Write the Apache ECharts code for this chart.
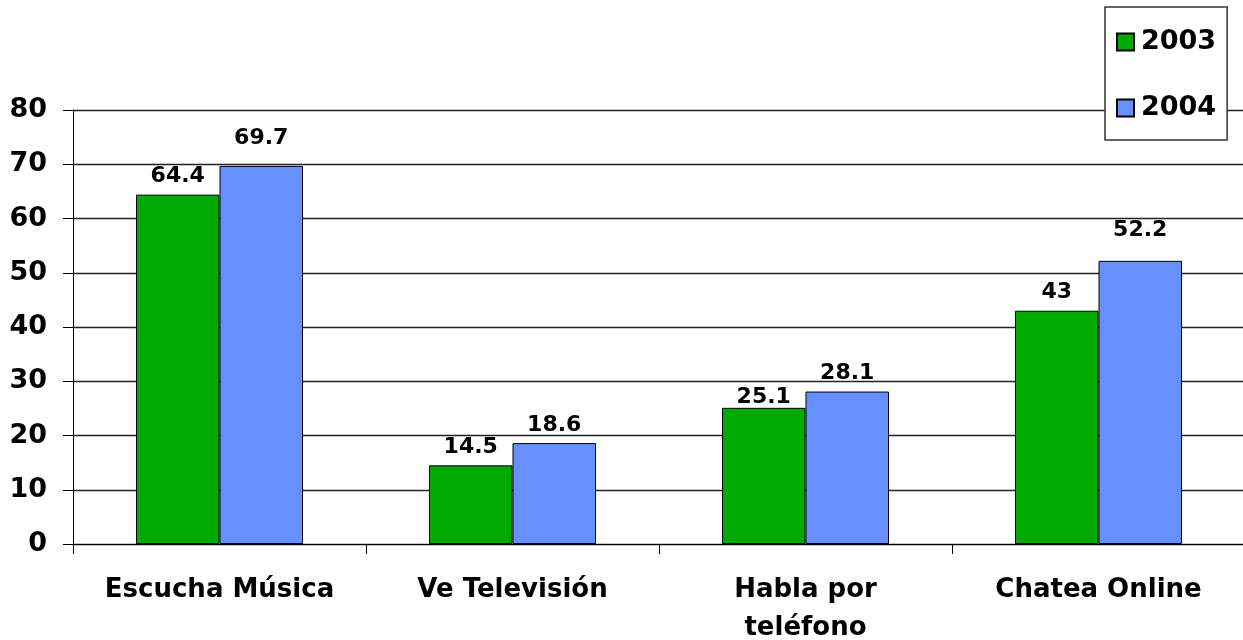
<!DOCTYPE html>
<html>
<head>
<meta charset="utf-8">
<script src="https://cdn.jsdelivr.net/npm/echarts@6/dist/echarts.min.js"></script>
<style>
  html, body { margin: 0; padding: 0; background: #fff; }
  #chart { width: 1243px; height: 640px; }
</style>
</head>
<body>
<div id="chart"></div>
<script>
const categories = ['Escucha Música', 'Ve Televisión', 'Habla por\nteléfono', 'Chatea Online'];
const years = ['2003', '2004'];
const values2003 = [64.4, 14.5, 25.1, 43];
const values2004 = [69.7, 18.6, 28.1, 52.2];
const yTicks = { min: 0, max: 80, interval: 10 };

// extra lift of some value labels (excel put them a bit higher/lower)
const lift2003 = [0, 0, -7, 0];
const lift2004 = [10, 0, 0, 13];

const font = 'DejaVu Sans';
const colors = ['#00aa00', '#6690ff'];

function buildData(values, lifts) {
    return values.map((v, i) => {
        return {
            value: v,
            label: { offset: [0, -lifts[i]] }
        }
    })
}

function barSeries(name, values, lifts, color) {
    return {
        name: name,
        type: 'bar',
        barGap: '0%',
        barCategoryGap: '43%',
        data: buildData(values, lifts),
        itemStyle: {
            color: color,
            borderColor: '#000',
            borderWidth: 1
        },
        label: {
            show: true,
            position: 'top',
            distance: 7,
            fontFamily: font,
            fontWeight: 'bold',
            fontSize: 22,
            color: '#000'
        }
    }
}

const myChart = echarts.init(document.querySelector('#chart'));
const option = {
    animation: false,
    grid: {
        left: 73,
        top: 110,
        width: 1172,
        bottom: 96,
        containLabel: false,
        outerBoundsMode: 'none'
    },
    legend: {
        orient: 'vertical',
        left: 1105,
        top: 7,
        icon: 'rect',
        itemWidth: 17,
        itemHeight: 17,
        itemGap: 36,
        padding: [20, 11, 17, 11],
        backgroundColor: '#fff',
        borderColor: '#333',
        borderWidth: 1.5,
        borderRadius: 0,
        textStyle: {
            fontFamily: font,
            fontWeight: 'bold',
            fontSize: 27,
            lineHeight: 30,
            color: '#000',
            padding: [0, 0, 0, 2]
        },
        data: years
    },
    xAxis: {
        type: 'category',
        data: categories,
        axisLine: { lineStyle: { color: '#000', width: 1 } },
        axisTick: {
            show: true,
            alignWithLabel: false,
            length: 10,
            lineStyle: { color: '#000' }
        },
        axisLabel: {
            interval: 0,
            margin: 27,
            fontFamily: font,
            fontWeight: 'bold',
            fontSize: 26,
            lineHeight: 38,
            color: '#000'
        }
    },
    yAxis: {
        type: 'value',
        min: yTicks.min,
        max: yTicks.max,
        interval: yTicks.interval,
        axisLine: { show: true, lineStyle: { color: '#000', width: 1 } },
        axisTick: {
            show: true,
            length: 10,
            lineStyle: { color: '#000' }
        },
        splitLine: { lineStyle: { color: '#222', width: 1.3 } },
        axisLabel: {
            margin: 26,
            fontFamily: font,
            fontWeight: 'bold',
            fontSize: 27,
            color: '#000'
        }
    },
    series: [
        barSeries(years[0], values2003, lift2003, colors[0]),
        barSeries(years[1], values2004, lift2004, colors[1])
    ]
};
myChart.setOption(option);
</script>
</body>
</html>
